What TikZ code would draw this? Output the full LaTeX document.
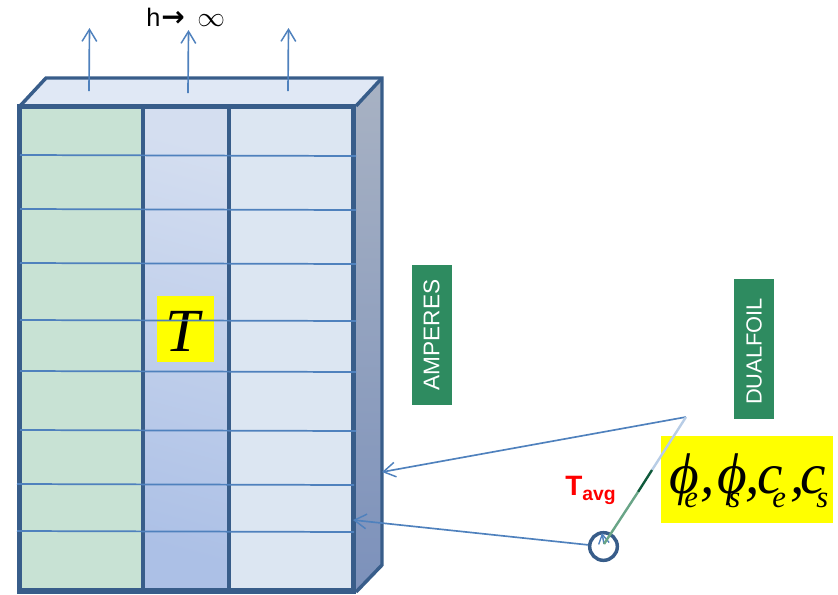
\documentclass[tikz,border=0pt]{standalone}
\usepackage{fontspec}
\setmainfont{Liberation Sans}
\newfontfamily\timesf{Liberation Serif}
\newfontfamily\dejabold{DejaVu Sans Bold}
\usetikzlibrary{arrows.meta}
\definecolor{edgeblue}{RGB}{56,93,138}
\definecolor{linkblue}{RGB}{79,129,189}
\definecolor{seagreen}{RGB}{46,139,96}
\definecolor{cellgreen}{RGB}{200,226,212}
\definecolor{celllight}{RGB}{220,230,242}
\definecolor{topface}{RGB}{224,232,245}
\definecolor{sidetop}{RGB}{168,178,195}
\definecolor{sidebot}{RGB}{124,145,187}
\definecolor{midtop}{RGB}{212,222,240}
\definecolor{midbot}{RGB}{172,192,230}
\definecolor{seglight}{RGB}{184,205,230}
\definecolor{segdark}{RGB}{15,90,60}
\definecolor{segmid}{RGB}{105,165,135}
\definecolor{hiyellow}{RGB}{255,255,0}
\definecolor{hired}{RGB}{255,0,0}
\tikzset{
 frame/.style={draw=edgeblue,line width=4.1pt,line join=miter},
 thinframe/.style={draw=edgeblue,line width=2.6pt},
 gridline/.style={draw=linkblue,line width=1.3pt},
 link/.style={draw=linkblue,line width=1.25pt,-{Straight Barb[length=9pt,width=11pt,line width=1.1pt]}},
 tinylink/.style={draw=linkblue,line width=1.1pt,-{Straight Barb[length=7pt,width=8pt,line width=1pt]}},
 tag/.style={fill=seagreen,text=white,rotate=90,minimum width=105pt,minimum height=30pt,inner sep=0pt,font=\fontsize{17}{17}\selectfont},
 hilite/.style={fill=hiyellow,inner sep=0pt},
 seg/.style={line width=1.8pt},
}
% one glyph in a box of a set advance, given in reference pixels
\newcommand{\glbig}[2]{\makebox[\dimexpr #1pt*3/4\relax][l]{\fontsize{43}{43}\selectfont #2}}
\newcommand{\glsub}[2]{\makebox[\dimexpr #1pt*3/4\relax][l]{\raisebox{-10.5pt}{\fontsize{23}{23}\selectfont #2}}}
\begin{document}
\begin{tikzpicture}[x=0.75pt,y=-0.75pt]
\useasboundingbox (0,0) rectangle (838,594);
% faces
\path[fill=topface] (20,106)--(46,78)--(382,78)--(356,106)--cycle;
\shade[top color=sidetop,bottom color=sidebot] (356,106)--(382,78)--(382,565)--(356,592)--cycle;
\path[fill=cellgreen] (20,106) rectangle (143,590);
\path[fill=celllight] (229,106) rectangle (353,590);
\shade[top color=midtop,bottom color=midbot,shading angle=-15] (143,106) rectangle (229,590);
% outline
\draw[thinframe,line join=miter] (20,106)--(46,78)--(382,78)--(382,565)--(356,592);
\draw[thinframe] (382,78)--(356,106);
\draw[thinframe] (143,106)--(143,590);
\draw[thinframe] (229,106)--(229,590);
\draw[frame] (19.5,106.5) rectangle (353.5,591);
% T
\node[hilite,minimum width=42.75pt,minimum height=49.5pt] (temp) at (185.5,328.5) {};
\node[inner sep=0pt,font=\timesf\itshape\fontsize{46}{46}\selectfont] (templabel) at (183,331) {T};
% grid lines
\coordinate (la1) at (20,155); \coordinate (lb1) at (356,156);
\coordinate (la2) at (20,209); \coordinate (lb2) at (356,210);
\coordinate (la3) at (20,263); \coordinate (lb3) at (356,264);
\coordinate (la4) at (20,320); \coordinate (lb4) at (356,321);
\coordinate (la5) at (20,371); \coordinate (lb5) at (356,372);
\coordinate (la6) at (20,430); \coordinate (lb6) at (356,431);
\coordinate (la7) at (17,484); \coordinate (lb7) at (354,485);
\coordinate (la8) at (17,531); \coordinate (lb8) at (354,532);
\foreach \i in {1,...,8} \draw[gridline] (la\i) -- (lb\i);
% heat arrows
\coordinate (h1a) at (89,91); \coordinate (h1b) at (89.5,28);
\coordinate (h2a) at (188,93); \coordinate (h2b) at (188.5,30);
\coordinate (h3a) at (288,91); \coordinate (h3b) at (288.5,28);
\draw[link] (h1a)--(h1b);
\draw[link] (h2a)--(h2b);
\draw[link] (h3a)--(h3b);
\node[anchor=base west,inner sep=0pt,font=\fontsize{19}{19}\selectfont] (hlabel) at (146,26) {h};
\node[anchor=base west,inner sep=0pt] (harrow) at (161,26) {\dejabold\fontsize{21}{21}\selectfont →};
\node[anchor=base west,inner sep=0pt,font=\fontsize{22}{22}\selectfont] (hinf) at (197,26) {$\infty$};
% tags
\node[tag] (amp) at (431.5,335) {AMPERES};
\node[tag] (dual) at (754,348.5) {{\fontsize{16.4}{16.4}\selectfont DUALFOIL}\kern4.5pt};
% yellow formula
\node[hilite,minimum width=129pt,minimum height=65.25pt] (formula) at (747,479) {};
\node[anchor=base west,inner sep=0pt,font=\timesf\itshape] (formulatext) at (669,493) {\glbig{15}{ϕ}\glsub{16}{e}\glbig{17}{,}\glbig{11}{ϕ}\glsub{17}{s}\glbig{12}{,}\glbig{15}{c}\glsub{18}{e}\glbig{10}{,}\glbig{16}{c}\glsub{16}{s}};
% connectors
\coordinate (apex) at (686,417);
\coordinate (c1) at (652,470);
\coordinate (c2) at (638,492);
\coordinate (c3) at (604,544);
\coordinate (tip) at (602,533);
\coordinate (wall) at (382,472);
\coordinate (inner) at (353,520);
\node[draw=edgeblue,circle,line width=2.6pt,minimum size=20.75pt,inner sep=0pt] (probe) at (603.5,546.5) {};
\draw[link] (apex)--(wall);
\draw[link] (probe)--(inner);
\draw[tinylink] (c3)--(tip);
\draw[seg,draw=seglight] (apex)--(c1);
\draw[seg,draw=segdark] (c1)--(c2);
\draw[seg,draw=segmid] (c2)--(c3);
% T avg
\node[anchor=base west,inner sep=0pt,text=hired,font=\bfseries\fontsize{21}{21}\selectfont] (tavg) at (565,495) {T\raisebox{-3.75pt}{\fontsize{14.5}{14.5}\selectfont avg}};
\end{tikzpicture}
\end{document}
